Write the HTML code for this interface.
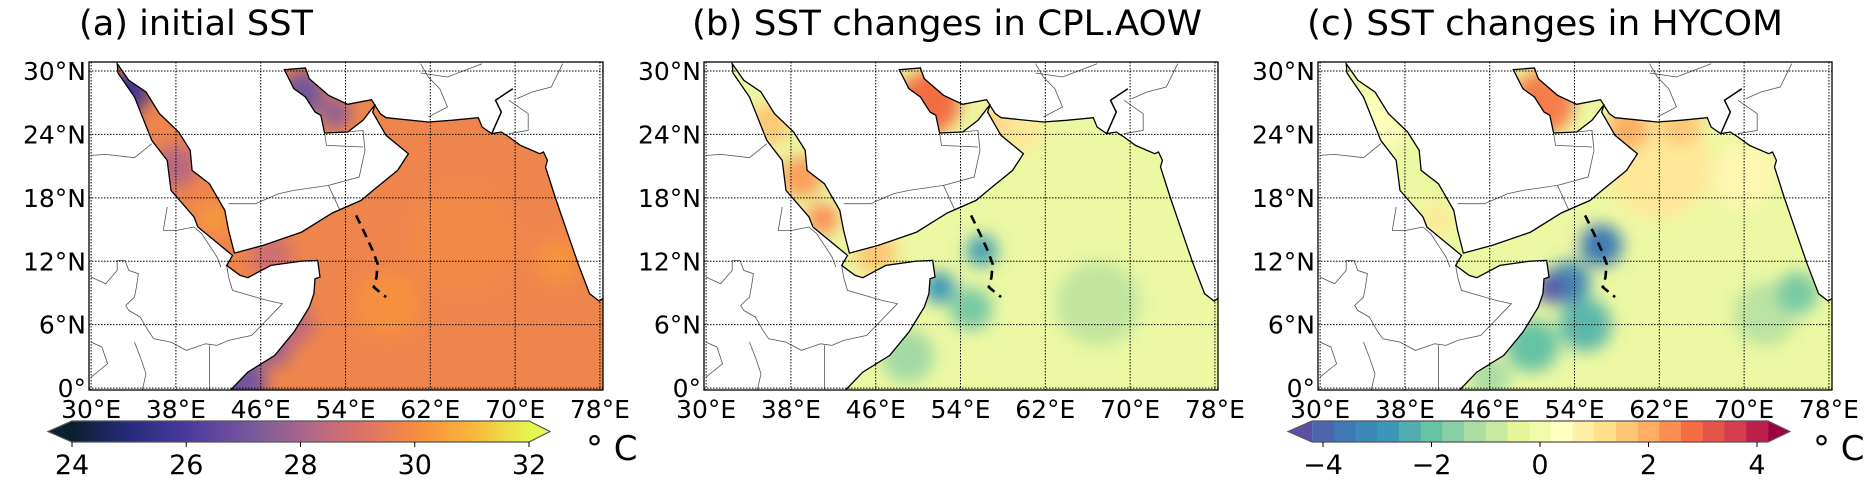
<!DOCTYPE html>
<html><head><meta charset="utf-8"><style>
html,body{margin:0;padding:0;background:#fff;}
svg{display:block;font-family:"DejaVu Sans","Liberation Sans",sans-serif;}
</style></head><body>
<svg id="fig" width="1873" height="490" viewBox="0 0 1873 490" xmlns="http://www.w3.org/2000/svg">
<defs>
<linearGradient id="thermal" x1="0" x2="1" y1="0" y2="0">
<stop offset="0" stop-color="#0c2030"/><stop offset="0.12" stop-color="#252a78"/><stop offset="0.25" stop-color="#4a3a9c"/>
<stop offset="0.4" stop-color="#7a5a9c"/><stop offset="0.52" stop-color="#b06888"/><stop offset="0.63" stop-color="#db7168"/>
<stop offset="0.75" stop-color="#f58c42"/><stop offset="0.87" stop-color="#f9b43a"/><stop offset="1" stop-color="#e6f550"/>
</linearGradient>
</defs>
</svg>
<script>
// ---- data ----
var lonTicks=[30,38,46,54,62,70,78];
var latTicks=[0,6,12,18,24,30];
var titles=["(a) initial SST","(b) SST changes in CPL.AOW","(c) SST changes in HYCOM"];
var baseValues=[29.75,-0.2,-0.2];
// blobs: lon, lat, radius(deg), value
var blobLonA=[65,58,74,44,47,49,47,33.5,38,41.5,50,53];
var blobLatA=[14,8,12,0.5,4,6,12.5,28,21,16,28,26];
var blobRA=[5,3,2,2.5,2,2,2,2,2,1.5,2,1.5];
var blobValA=[29.9,30.1,30.2,27.0,27.8,28.5,28.8,25.6,28.3,30.3,27.0,27.6];
var blobLonB=[67,49,55,36,39,41,51,46,58,60,52,56];
var blobLatB=[8,3,7.5,25,20,16,27,12.8,25,24.5,9.5,13];
var blobRB=[4,2.5,2,2,2,1.5,3,2,2,2,1.5,1.5];
var blobValB=[-0.9,-1.3,-1.8,1.6,2.2,2.4,2.8,1.6,1.4,1.0,-2.8,-2.6];
var blobLonC=[62,70,35,72,75,46,50,55,41,51,59,64,53.5,56.5,51.8];
var blobLatC=[21,20,25,7,9,1,4,6,16,27,24.5,25,10,13.5,9.5];
var blobRC=[5,3,3,3,2,2,2.5,2.5,1.5,3,2,2,2,2,1.5];
var blobValC=[1.0,0.6,0.3,-1.0,-1.8,-1.2,-2.0,-2.2,1.0,2.6,2.0,1.6,-3.2,-3.6,-4.2];
var cbarTicksA=[24,26,28,30,32];
var cbarTicksC=[-4,-2,0,2,4];

// ---- geometry ----
var NS="http://www.w3.org/2000/svg";
var svg=document.getElementById('fig');
var panelX=[89,704,1318], axTop=62, axBot=390, axW=514;
function lonX(p,lon){return panelX[p]+(lon-29.8)*10.6;}
function latY(lat){return 71+(30-lat)*10.57;}
function d2ll(xd,yd){return [30+(xd-232)/27.6, 30-(yd-122)/31.7];}
var coastD=[[590,1085],[640,1025],[710,975],[760,905],[800,830],[812,790],[815,745],[828,740],[822,690],[780,692],[700,705],[640,742],[620,735],[585,705],[600,675],[510,590],[500,560],[440,480],[430,390],[390,330],[345,200],[302,128],[300,100],[330,150],[375,185],[410,250],[460,305],[490,360],[495,420],[540,460],[580,540],[590,600],[605,668],[680,645],[780,605],[860,548],[935,510],[968,478],[1030,420],[1058,370],[1000,315],[985,285],[965,245],[972,222],[940,270],[900,305],[840,308],[830,255],[815,245],[790,200],[760,175],[735,118],[790,113],[800,145],[850,195],[900,222],[962,208],[985,250],[1000,262],[1110,275],[1170,270],[1240,262],[1250,290],[1275,310],[1300,305],[1320,320],[1350,345],[1400,370],[1410,365],[1420,390],[1415,410],[1440,500],[1470,600],[1500,700],[1530,790],[1555,812],[1575,795],[1575,1085]];
var bordersD=[
[[232,740],[270,760],[300,720],[300,690],[320,690],[330,720],[355,730],[350,770],[345,800],[322,825],[330,840],[360,860],[380,900],[395,925],[440,935],[480,960],[530,940],[560,945],[590,930],[650,915],[730,820],[690,810],[630,790],[600,780],[590,740],[585,705]],
[[232,375],[270,372],[345,382],[390,340]],
[[232,935],[260,950],[275,1000],[232,1040]],
[[345,935],[360,980],[375,1030],[365,1080]],
[[540,945],[540,1080]],
[[430,530],[420,600],[455,600],[500,590]],
[[500,590],[520,610],[560,680],[570,710]],
[[590,520],[660,520],[720,490],[760,480],[850,465],[880,540]],
[[850,465],[930,440],[945,360],[940,300],[900,305]],
[[840,308],[845,345],[940,350]],
[[1090,100],[1110,140],[1140,175],[1160,230],[1110,260]],
[[1090,128],[1160,140],[1250,100]],
[[1340,205],[1380,185],[1430,170],[1460,100]],
[[1320,210],[1370,250],[1370,300],[1320,310]]];
var riverD=[[1275,310],[1300,245],[1285,210],[1330,175]];
var dashD=[[922,555],[945,610],[965,660],[978,700],[975,740],[968,770],[1000,800]];

function mk(tag,attrs,parent){var e=document.createElementNS(NS,tag);for(var k in attrs)e.setAttribute(k,attrs[k]);(parent||svg).appendChild(e);return e;}
function pts(p,arr){return arr.map(function(q){var ll=d2ll(q[0],q[1]);return lonX(p,ll[0]).toFixed(1)+','+latY(ll[1]).toFixed(1);}).join(' ');}

function lerpC(a,b,t){return [a[0]+(b[0]-a[0])*t,a[1]+(b[1]-a[1])*t,a[2]+(b[2]-a[2])*t];}
function hex(h){return [parseInt(h.substr(1,2),16),parseInt(h.substr(3,2),16),parseInt(h.substr(5,2),16)];}
function rgb(c){return 'rgb('+Math.round(c[0])+','+Math.round(c[1])+','+Math.round(c[2])+')';}
var thermStops=['#0c2030','#252a78','#4a3a9c','#7a5a9c','#b06888','#db7168','#f58c42','#f9b43a','#e6f550'].map(hex);
var thermPos=[0,0.12,0.25,0.4,0.52,0.63,0.75,0.87,1];
function thermal(v){var t=Math.max(0,Math.min(1,(v-24)/8));for(var i=1;i<thermPos.length;i++){if(t<=thermPos[i]){return rgb(lerpC(thermStops[i-1],thermStops[i],(t-thermPos[i-1])/(thermPos[i]-thermPos[i-1])));}}return rgb(thermStops[8]);}
var specStops=['#5e4fa2','#3d7ab5','#3b97b8','#66c2a5','#abdda4','#e6f598','#ffffbf','#fee08b','#fdae61','#f46d43','#d53e4f','#9e0142'].map(hex);
function spectral(v){var t=Math.max(0,Math.min(1,(v+4.4)/8.8))*(specStops.length-1);var i=Math.min(specStops.length-2,Math.floor(t));return rgb(lerpC(specStops[i],specStops[i+1],t-i));}

var blobSets=[[blobLonA,blobLatA,blobRA,blobValA],[blobLonB,blobLatB,blobRB,blobValB],[blobLonC,blobLatC,blobRC,blobValC]];

for(var p=0;p<3;p++){
  var x0=panelX[p];
  var g=mk('g',{});
  
  
  var defs=mk('defs',{},g);
  var cp=mk('clipPath',{id:'ax'+p},defs);mk('rect',{x:x0,y:axTop,width:axW,height:axBot-axTop},cp);
  var oc=mk('clipPath',{id:'oc'+p},defs);mk('polygon',{points:pts(p,coastD)},oc);
  var f=mk('filter',{id:'bl'+p,x:'-50%',y:'-50%',width:'200%',height:'200%'},defs);mk('feGaussianBlur',{stdDeviation:8},f);
  var col=p===0?thermal:spectral;
  var inner=mk('g',{'clip-path':'url(#ax'+p+')'},g);
  var ocean=mk('g',{'clip-path':'url(#oc'+p+')'},inner);
  var base=mk('rect',{x:x0,y:axTop,width:axW,height:axBot-axTop,fill:col(baseValues[p])},ocean);
  
  
  var bs=blobSets[p];var bg=mk('g',{filter:'url(#bl'+p+')'},ocean);
  for(var i=0;i<bs[0].length;i++){
    var c=mk('circle',{cx:lonX(p,bs[0][i]),cy:latY(bs[1][i]),r:bs[2][i]*10.6,fill:col(bs[3][i])},bg);
    
    
  }
  bordersD.forEach(function(b){var l=mk('polyline',{points:pts(p,b),fill:'none',stroke:'#555',"stroke-width":0.8},inner);
    
    });
  var rv=mk('polyline',{points:pts(p,riverD),fill:'none',stroke:'#000',"stroke-width":1.5},inner);
  
  
  var cl=mk('polygon',{points:pts(p,coastD),fill:'none',stroke:'#000',"stroke-width":1.3},inner);
  
  
  lonTicks.forEach(function(lo){var l=mk('line',{x1:lonX(p,lo),x2:lonX(p,lo),y1:axTop,y2:axBot,stroke:'#000',"stroke-width":1,"stroke-dasharray":'1.5,1.5'},inner);
    
    });
  latTicks.forEach(function(la){var l=mk('line',{x1:x0,x2:x0+axW,y1:latY(la),y2:latY(la),stroke:'#000',"stroke-width":1,"stroke-dasharray":'1.5,1.5'},inner);
    
    });
  var dl=mk('polyline',{points:pts(p,dashD),fill:'none',stroke:'#000',"stroke-width":2.6,"stroke-dasharray":'9,6'},inner);
  
  
  var fr=mk('rect',{x:x0,y:axTop,width:axW,height:axBot-axTop,fill:'none',stroke:'#000',"stroke-width":1.3},g);
  
  
  lonTicks.forEach(function(lo){var t=mk('text',{x:lonX(p,lo),y:418,"font-size":25,"text-anchor":'middle'},g);t.textContent=lo+'°E';
    
    });
  latTicks.forEach(function(la){var t=mk('text',{x:x0-3,y:latY(la)+9,"font-size":25,"text-anchor":'end'},g);t.textContent=la===0?'0°':la+'°N';
    
    });
}
var titleX=[79,692,1307],titleW=[234,510,476];
for(var i=0;i<3;i++){var t=mk('text',{x:titleX[i],y:35,"font-size":35,textLength:titleW[i],lengthAdjust:'spacingAndGlyphs'});t.textContent=titles[i];
  
  }

(function(){var g=mk('g',{});
 
 
 var L=72,R=529,T=421,B=442;function cx(v){return L+(v-24)/8*(R-L);}
 mk('polygon',{points:L+','+T+' '+(L-24)+','+((T+B)/2)+' '+L+','+B,fill:thermal(24)},g);
 mk('polygon',{points:R+','+T+' '+(R+21)+','+((T+B)/2)+' '+R+','+B,fill:thermal(32)},g);
 mk('rect',{x:L,y:T,width:R-L,height:B-T,fill:'url(#thermal)'},g);
 mk('polygon',{points:L+','+T+' '+R+','+T+' '+(R+21)+','+((T+B)/2)+' '+R+','+B+' '+L+','+B+' '+(L-24)+','+((T+B)/2),fill:'none',stroke:'#555',"stroke-width":1.2},g);
 cbarTicksA.forEach(function(v){mk('line',{x1:cx(v),x2:cx(v),y1:B,y2:B+5,stroke:'#000'},g);var t=mk('text',{x:cx(v),y:474,"font-size":27,"text-anchor":'middle'},g);t.textContent=v;
   
   });
 var u=mk('text',{x:586,y:460,"font-size":34},g);u.textContent='° C';
 
 
})();
(function(){var g=mk('g',{});
 
 
 var T=421,B=442;function cx(v){return 1323+(v+4)/8*(1757-1323);}
 var L=cx(-4.2),R=cx(4.2);
 mk('polygon',{points:L+','+T+' '+(L-24)+','+((T+B)/2)+' '+L+','+B,fill:spectral(-4.4)},g);
 mk('polygon',{points:R+','+T+' '+(R+22)+','+((T+B)/2)+' '+R+','+B,fill:spectral(4.4)},g);
 for(var v=-4.2;v<4.19;v+=0.4){mk('rect',{x:cx(v),y:T,width:cx(v+0.4)-cx(v)+0.5,height:B-T,fill:spectral(v+0.2)},g);}
 mk('polygon',{points:L+','+T+' '+R+','+T+' '+(R+22)+','+((T+B)/2)+' '+R+','+B+' '+L+','+B+' '+(L-24)+','+((T+B)/2),fill:'none',stroke:'#555',"stroke-width":1.2},g);
 cbarTicksC.forEach(function(v){mk('line',{x1:cx(v),x2:cx(v),y1:B,y2:B+5,stroke:'#000'},g);var t=mk('text',{x:cx(v),y:474,"font-size":27,"text-anchor":'middle'},g);t.textContent=(v<0?'\u2212'+(-v):v);
   
   });
 var u=mk('text',{x:1813,y:460,"font-size":34},g);u.textContent='° C';
 
 
})();
</script>
</body></html>
